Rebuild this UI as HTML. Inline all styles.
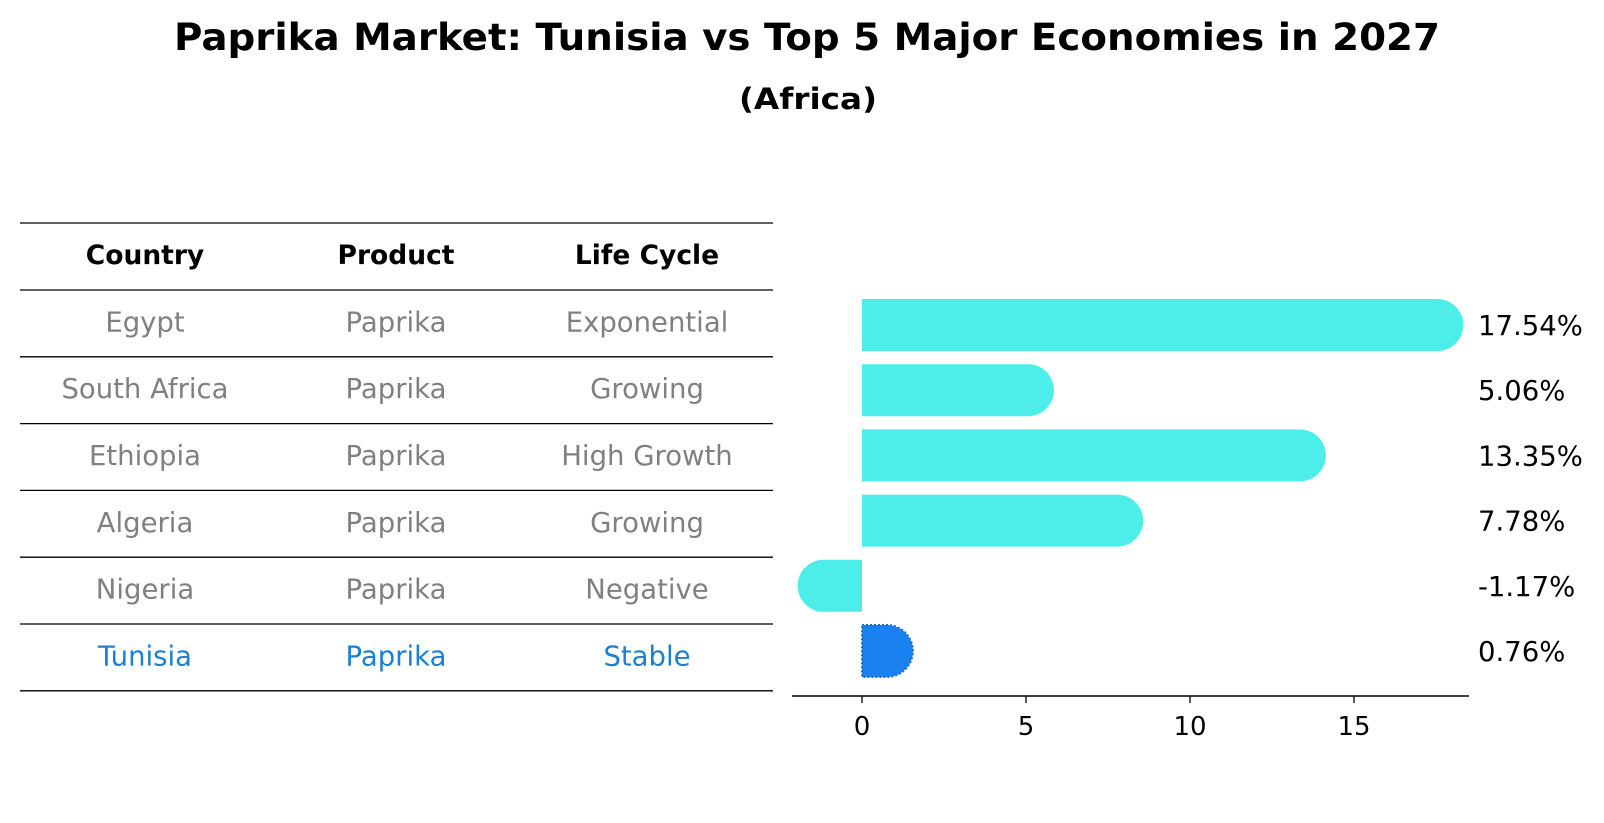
<!DOCTYPE html>
<html><head><meta charset="utf-8"><style>
html,body{margin:0;padding:0;background:#fff;}
svg{display:block;font-family:"DejaVu Sans","Liberation Sans",sans-serif;}
</style></head><body>
<svg id="chart" width="1604" height="823" viewBox="0 0 1604 823" xmlns="http://www.w3.org/2000/svg">
<text x="807" y="50" text-anchor="middle" font-size="37" font-weight="bold" textLength="1266" lengthAdjust="spacingAndGlyphs">Paprika Market: Tunisia vs Top 5 Major Economies in 2027</text>
<text x="808" y="109" text-anchor="middle" font-size="29" font-weight="bold" textLength="138" lengthAdjust="spacingAndGlyphs">(Africa)</text>
<g id="table"></g>
<g id="bars"></g>
</svg>
<script>
const countries = ["Egypt","South Africa","Ethiopia","Algeria","Nigeria","Tunisia"];
const products = ["Paprika","Paprika","Paprika","Paprika","Paprika","Paprika"];
const lifeCycles = ["Exponential","Growing","High Growth","Growing","Negative","Stable"];
const growthValues = [17.54,5.06,13.35,7.78,-1.17,0.76];
const valueLabels = ["17.54%","5.06%","13.35%","7.78%","-1.17%","0.76%"];
const xTicks = [0,5,10,15];
const headers = ["Country","Product","Life Cycle"];

const NS = "http://www.w3.org/2000/svg";
function mk(tag, attrs, parent){const e=document.createElementNS(NS,tag);for(const k in attrs)e.setAttribute(k,attrs[k]);parent.appendChild(e);return e;}

// table
const table = document.getElementById('table');
const colX = [145,396,647];
const tableTop = 223, headerBottom = 290, rowH = 66.8;
let l = mk('line',{x1:20,x2:773,y1:tableTop,y2:tableTop,stroke:'#000','stroke-width':1.3},table);


headers.forEach((h,i)=>{
  const t = mk('text',{x:colX[i],y:264,'text-anchor':'middle','font-size':26.5,'font-weight':'bold'},table);
  t.textContent = h;
  
  
});
for(let i=0;i<=countries.length;i++){
  const y = headerBottom + i*rowH;
  const ln = mk('line',{x1:20,x2:773,y1:y,y2:y,stroke:'#000','stroke-width':1.3},table);
  
  
}
countries.forEach((c,i)=>{
  const yc = headerBottom + (i+0.5)*rowH + 8;
  const color = c==="Tunisia" ? "#1a80d4" : "#808080";
  [c,products[i],lifeCycles[i]].forEach((v,j)=>{
    const t = mk('text',{x:colX[j],y:yc,'text-anchor':'middle','font-size':27.5,fill:color},table);
    t.textContent = v;
    
    
  });
});

// bars
const bars = document.getElementById('bars');
const x0 = 862, pxPerUnit = 32.8;
function xs(v){return x0 + v*pxPerUnit;}
const barTop0 = 299, barStep = 65.2, barH = 52, r = 26;
growthValues.forEach((v,i)=>{
  const y = barTop0 + i*barStep;
  const xe = xs(v);
  const dir = v>=0 ? 1 : -1;
  const d = `M${x0},${y} L${xe},${y} A${r},${r} 0 0 ${dir>0?1:0} ${xe},${y+barH} L${x0},${y+barH} Z`;
  const isT = countries[i]==="Tunisia";
  const p = mk('path',{d:d,fill:isT?'#1a82f0':'#4deeea'},bars);
  if(isT){p.setAttribute('stroke','#1a6fd0');p.setAttribute('stroke-width','2');p.setAttribute('stroke-dasharray','2,2');}
  
  
  const t = mk('text',{x:1478,y:y+barH/2+10,'font-size':27.5},bars);
  t.textContent = valueLabels[i];
  
  
});
const ax = mk('line',{x1:792,x2:1469,y1:696,y2:696,stroke:'#000','stroke-width':1.6},bars);


xTicks.forEach(v=>{
  const tk = mk('line',{x1:xs(v),x2:xs(v),y1:696,y2:703,stroke:'#000','stroke-width':1.3},bars);
  
  
  const t = mk('text',{x:xs(v),y:735,'text-anchor':'middle','font-size':26},bars);
  t.textContent = v;
  
  
});
</script>
</body></html>
